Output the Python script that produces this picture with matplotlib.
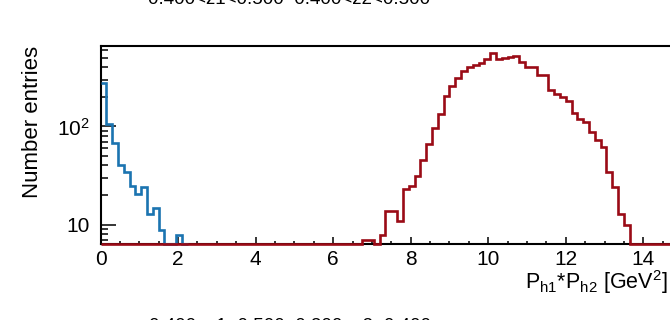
import numpy as np
import matplotlib
matplotlib.use('Agg')
import matplotlib.pyplot as plt
from matplotlib.ticker import FixedLocator, FixedFormatter, NullFormatter, MultipleLocator, LogLocator

plt.rcParams['font.family'] = ['Liberation Sans', 'DejaVu Sans']
plt.rcParams['mathtext.fontset'] = 'custom'
plt.rcParams['mathtext.rm'] = 'Liberation Sans'
plt.rcParams['mathtext.it'] = 'Liberation Sans:italic'

# 100 bins of 0.15 GeV^2 between 0 and 15
bin_edges = np.linspace(0, 15, 101)

# blue histogram, starting at bin 0
blue_first_bin = 0
blue_counts = [275, 107, 68, 40.3, 34.4, 24.8, 20.7, 24.2, 12.9, 14.8, 8.7, 0, 0, 7.8]

# red histogram, starting at bin 45 (x = 6.75)
red_first_bin = 45
red_counts = [7.0, 7.0, 0, 7.9, 13.8, 13.8, 10.8, 22.9, 24.8, 31.3,
              45.3, 65.9, 95.5, 133, 205, 257, 309, 367, 405, 419,
              445, 486, 556, 486, 501, 513, 525, 456, 400, 400,
              334, 334, 234, 214, 200, 181, 136, 118, 110, 88,
              72, 61, 34, 24.2, 12.9, 10]

top_text = '0.400<z1<0.500  0.400<z2<0.500'
bottom_text = '0.400<z1<0.500  0.300<z2<0.400'

ymin, ymax = 6.4, 664


def hist_part(first, values):
    # values and edges for the filled range plus one empty bin after it
    vals = np.array(list(values) + [0], dtype=float)
    edges = bin_edges[first:first + len(vals) + 1]
    # empty bins sit on the frame, like ROOT does on a log axis
    return np.clip(vals, ymin, None), edges


fig = plt.figure(figsize=(6.7, 3.2), dpi=100)
ax = fig.add_axes([0.15, 0.239, 0.868, 0.618])

bv, be = hist_part(blue_first_bin, blue_counts)
ax.stairs(bv, be, color='#1b74b0', lw=1.9, baseline=None, clip_on=False, zorder=3)

# red one spans the whole axis, empty bins on the bottom frame
red_full = np.zeros(len(bin_edges) - 1)
red_full[red_first_bin:red_first_bin + len(red_counts)] = red_counts
ax.stairs(np.clip(red_full, ymin, None), bin_edges, color='#9a0b16',
          lw=1.9, baseline=None, clip_on=False, zorder=4)

ax.set_yscale('log')
ax.set_xlim(0, 15)
ax.set_ylim(ymin, ymax)

ax.xaxis.set_major_locator(MultipleLocator(2))
ax.xaxis.set_minor_locator(MultipleLocator(0.5))
ax.yaxis.set_major_locator(FixedLocator([10, 100]))
ax.yaxis.set_major_formatter(FixedFormatter(['10', r'10$^{2}$']))
ax.yaxis.set_minor_locator(LogLocator(base=10, subs=np.arange(2, 10)))
ax.yaxis.set_minor_formatter(NullFormatter())

ax.tick_params(which='both', direction='in', top=False, right=False,
               labelsize=15, width=1.1, color='black')
ax.tick_params(axis='x', which='major', length=4.8, pad=5)
ax.tick_params(axis='x', which='minor', length=2.4)
ax.tick_params(axis='y', which='major', length=10.5, pad=8)
ax.tick_params(axis='y', which='minor', length=5)

for s in ax.spines.values():
    s.set_linewidth(1.5)

fig.text(0.048, 0.857, 'Number entries', rotation=90, ha='center', va='top', fontsize=16)
fig.text(668 / 670, 1 - 288.5 / 320, r'P$_{\rm h1}$*P$_{\rm h2}$ [GeV$^{2}$]',
         ha='right', va='baseline', fontsize=15.5)
fig.text(289 / 670, 1 - 4.5 / 320, top_text, ha='center', va='baseline', fontsize=13.5)
fig.text(290 / 670, 1 - 318 / 320, bottom_text, ha='center', va='top', fontsize=13.5)

fig.savefig('out.png', dpi=100)
